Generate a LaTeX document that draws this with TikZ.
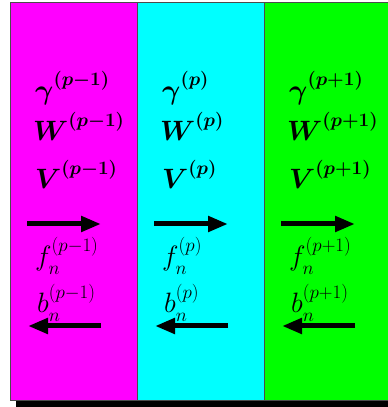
\RequirePackage{fix-cm}
\documentclass[tikz,border=0pt]{standalone}
\usetikzlibrary{arrows.meta}
\DeclareMathSizes{28}{28}{19}{14}
\definecolor{panelmag}{RGB}{255,0,255}
\definecolor{panelcyan}{RGB}{0,255,255}
\definecolor{panelgreen}{RGB}{0,255,0}
\newcommand\subn{\raisebox{-2pt}{$\scriptstyle n$}}
\newcommand\supx[1]{\raisebox{4pt}{$\scriptstyle(#1)$}}

\begin{document}
\begin{tikzpicture}[>={Triangle[length=20pt,width=15pt]},x=1pt,y=1pt,
 panel/.style={draw=black!70,line width=0.8pt},
 sym/.style={anchor=base west,inner sep=0pt,font=\fontsize{28}{32}\selectfont},
 bsym/.style={sym,font=\fontsize{28}{32}\selectfont\boldmath},
 flow/.style={->,line width=5pt}]
\useasboundingbox (0,0) rectangle (388,407);
\fill[black] (16,0) rectangle (400,7);
\foreach \i/\col/\lab in {0/panelmag/p-1,1/panelcyan/p,2/panelgreen/p+1}{
\begin{scope}[shift={(127*\i,0)}]
\filldraw[panel,fill=\col] (10,7) rectangle (137,405);
\node[bsym] (g\i) at (35,307) {$\gamma^{\supx{\lab}}$};
\node[bsym] (w\i) at (33,266) {$W^{\supx{\lab}}$};
\node[bsym] (v\i) at (35,218) {$V^{\supx{\lab}}$};
\node[sym] (f\i) at (35,141) {$f_{\subn}^{\supx{\lab}}$};
\node[sym] (b\i) at (37,94) {$b_{\subn}^{\supx{\lab}}$};
\coordinate (fs\i) at (27,183);
\coordinate (fe\i) at (101,183);
\coordinate (bs\i) at (101,81);
\coordinate (be\i) at (28,81);
\draw[flow] (fs\i) -- (fe\i);
\draw[flow] (bs\i) -- (be\i);
\end{scope}
}
\end{tikzpicture}
\end{document}
